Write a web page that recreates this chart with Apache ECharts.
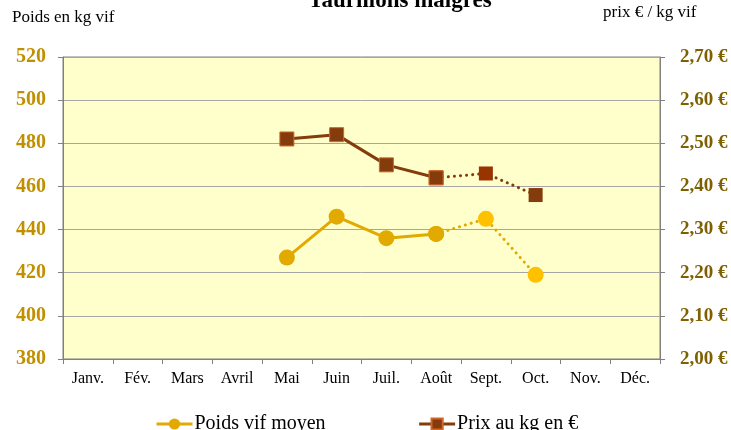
<!DOCTYPE html>
<html>
<head>
<meta charset="utf-8">
<script src="https://cdn.jsdelivr.net/npm/echarts@6/dist/echarts.min.js"></script>
<style>
  html, body { margin: 0; padding: 0; background: #fff; }
  #chart { width: 731px; height: 430px; }
</style>
</head>
<body>
<div id="chart"></div>
<script>
const mois = ['Janv.', 'Fév.', 'Mars', 'Avril', 'Mai', 'Juin', 'Juil.', 'Août', 'Sept.', 'Oct.', 'Nov.', 'Déc.']
const poids = [null, null, null, null, 427, 446, 436, 438, 445, 419, null, null]
const prix = [null, null, null, null, 2.51, 2.52, 2.45, 2.42, 2.43, 2.38, null, null]
// les mois à partir de Sept. sont en pointillés (provisoires)
const debutProvisoire = 8
const poidsTicks = [380, 520, 20]
const prixTicks = [2.0, 2.7, 0.1]

const serif = 'Liberation Serif'
const colPoids = '#E2A900'
const colPoidsProv = '#FFC000'
const colPrix = '#843C0C'

function solide(arr) {
  return arr.map((v, i) => (i < debutProvisoire ? v : null))
}
function pointille(arr, couleurProv) {
  return arr.map((v, i) => {
    if (i < debutProvisoire - 1) return null
    if (i === debutProvisoire - 1) return v
    if (v == null) return null
    return { value: v, itemStyle: { color: couleurProv(i), borderWidth: 0 } }
  })
}

let chart = echarts.init(document.getElementById('chart'))
let option = {
  animation: false,
  title: {
    text: 'Taurillons maigres',
    left: 395,
    textAlign: 'center',
    top: -15,
    textStyle: { fontFamily: serif, fontSize: 23, fontWeight: 'bold', color: '#000' },
  },
  graphic: [
    { type: 'text', left: 12, top: 9, style: { text: 'Poids en kg vif', font: '17px "Liberation Serif"', fill: '#000' } },
    { type: 'text', left: 603, top: 4, style: { text: 'prix € / kg vif', font: '17px "Liberation Serif"', fill: '#000' } },
  ],
  grid: {
    left: 63,
    right: 71,
    top: 57,
    bottom: 71,
    show: true,
    backgroundColor: '#FFFFCC',
    borderColor: '#808080',
    borderWidth: 1,
  },
  legend: {
    left: 150,
    top: 409,
    itemWidth: 36,
    itemHeight: 14,
    itemGap: 92,
    lineStyle: { width: 3 },
    textStyle: { fontFamily: serif, fontSize: 20, color: '#000', padding: [0, 0, 0, -3] },
    data: ['Poids vif moyen', 'Prix au kg en €'],
  },
  xAxis: {
    type: 'category',
    data: mois,
    boundaryGap: true,
    axisLine: { show: true, lineStyle: { color: '#808080' } },
    axisTick: { show: true, inside: false, length: 5, lineStyle: { color: '#808080' } },
    axisLabel: { fontFamily: serif, fontSize: 16, color: '#000', margin: 12 },
  },
  yAxis: [
    {
      type: 'value',
      min: poidsTicks[0],
      max: poidsTicks[1],
      interval: poidsTicks[2],
      axisLine: { show: true, lineStyle: { color: '#808080' } },
      axisTick: { show: true, length: 5, lineStyle: { color: '#808080' } },
      axisLabel: { fontFamily: serif, fontSize: 20, fontWeight: 'bold', color: '#C09000', margin: 17 },
      splitLine: { show: true, lineStyle: { color: '#A6A6A6', width: 1 } },
    },
    {
      type: 'value',
      min: prixTicks[0],
      max: prixTicks[1],
      interval: prixTicks[2],
      position: 'right',
      axisLine: { show: true, lineStyle: { color: '#808080' } },
      axisTick: { show: true, length: 5, lineStyle: { color: '#808080' } },
      axisLabel: {
        fontFamily: serif,
        fontSize: 19,
        fontWeight: 'bold',
        color: '#7F6000',
        margin: 20,
        formatter: (v) => v.toFixed(2).replace('.', ',') + ' €',
      },
      splitLine: { show: false },
    },
  ],
  series: [
    {
      name: 'Poids vif moyen',
      type: 'line',
      yAxisIndex: 0,
      data: solide(poids),
      symbol: 'circle',
      symbolSize: 16,
      lineStyle: { color: colPoids, width: 3 },
      itemStyle: { color: colPoids },
      z: 3,
    },
    {
      name: 'Poids vif moyen',
      type: 'line',
      yAxisIndex: 0,
      data: pointille(poids, () => colPoidsProv),
      symbol: 'circle',
      symbolSize: 16,
      lineStyle: { color: colPoids, width: 3, type: [0.1, 6], cap: 'round' },
      itemStyle: { color: colPoids },
      z: 2,
    },
    {
      name: 'Prix au kg en €',
      type: 'line',
      yAxisIndex: 1,
      data: solide(prix),
      symbol: 'rect',
      symbolSize: 14,
      lineStyle: { color: colPrix, width: 3 },
      itemStyle: { color: colPrix, borderColor: '#D0662A', borderWidth: 1 },
      z: 3,
    },
    {
      name: 'Prix au kg en €',
      type: 'line',
      yAxisIndex: 1,
      data: pointille(prix, (i) => (i === debutProvisoire ? '#993300' : colPrix)),
      symbol: 'rect',
      symbolSize: 14,
      lineStyle: { color: colPrix, width: 3, type: [0.1, 6], cap: 'round' },
      itemStyle: { color: colPrix, borderColor: '#D0662A', borderWidth: 1 },
      z: 2,
    },
  ],
}
chart.setOption(option)
</script>
</body>
</html>
